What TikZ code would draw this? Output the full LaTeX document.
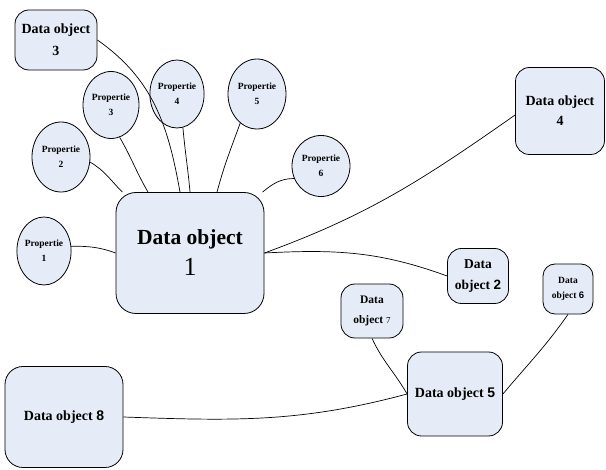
\documentclass[tikz,border=0pt]{standalone}
\usepackage{fontspec}
\setmainfont{Liberation Serif}
\newfontfamily\digitfont{Liberation Sans}
\usetikzlibrary{shapes.geometric}
\definecolor{objfill}{RGB}{230,236,247}

\begin{document}
\begin{tikzpicture}[x=1pt, y=-1pt, line width=0.8pt,
    dobj/.style={draw, fill=objfill, rounded corners=14pt, align=center, inner sep=0pt, font=\bfseries},
    prop/.style={draw, fill=objfill, ellipse, align=center, inner sep=0pt, font=\bfseries\fontsize{9.5}{15}\selectfont},
    link/.style={line width=0.7pt}]

\useasboundingbox (0,0) rectangle (606,470);

% main data object
\node[dobj, minimum width=148pt, minimum height=121pt, rounded corners=20pt, font=\bfseries\fontsize{21.5}{31}\selectfont] (do1) at (190,253)
    {Data object\\ {\mdseries\fontsize{26}{31}\selectfont 1}};

% other data objects
\node[dobj, minimum width=82pt, minimum height=60pt, font=\bfseries\fontsize{14}{22}\selectfont] (do3) at (56,40) {Data object\\3};
\node[dobj, minimum width=89pt, minimum height=87pt, font=\bfseries\fontsize{14}{20}\selectfont] (do4) at (560,111) {Data object\\4};
\node[dobj, minimum width=61pt, minimum height=55pt, font=\bfseries\fontsize{13.5}{21}\selectfont] (do2) at (478,276) {Data\\object {\digitfont 2}};
\node[dobj, minimum width=62pt, minimum height=54pt, font=\bfseries\fontsize{11.5}{20}\selectfont] (do7) at (372,311) {Data\\object {\mdseries\fontsize{9}{20}\selectfont 7}};
\node[dobj, minimum width=50pt, minimum height=50pt, rounded corners=12pt, font=\bfseries\fontsize{9.5}{15}\selectfont] (do6) at (568,289) {Data\\object {\digitfont 6}};
\node[dobj, minimum width=95pt, minimum height=84pt, font=\bfseries\fontsize{14}{20}\selectfont] (do5) at (455,394) {Data object {\digitfont 5}};
\node[dobj, minimum width=118pt, minimum height=101pt, rounded corners=18pt, font=\bfseries\fontsize{14}{20}\selectfont] (do8) at (64,417) {Data object {\digitfont 8}};

% properties
\node[prop, minimum width=53pt, minimum height=68pt] (p1) at (44,251) {Propertie\\1};
\node[prop, minimum width=58pt, minimum height=70pt] (p2) at (61,157) {Propertie\\2};
\node[prop, minimum width=56pt, minimum height=67pt] (p3) at (111,105) {Propertie\\3};
\node[prop, minimum width=44pt, minimum height=68pt] (p4) at (177,94) {Propertie\\4};
\node[prop, minimum width=58pt, minimum height=70pt] (p5) at (257,94) {Propertie\\5};
\node[prop, minimum width=58pt, minimum height=61pt] (p6) at (321,166) {Propertie\\6};

% links around data object 1
\draw[link] (do3.east) to[out=-35, in=100] ([xshift=-10pt]do1.north);
\draw[link] (p3.-75) to[out=-60, in=120] ([xshift=-42pt]do1.north);
\draw[link] (p2.-10) to[out=-30, in=135] (do1.138);
\draw[link] (p4.-80) to[out=-85, in=95] (do1.north);
\draw[link] (p5.-120) to[out=-110, in=75] ([xshift=27pt]do1.north);
\draw[link] (do1.40) to[out=40, in=180] (p6.205);
\draw[link] (p1.10) to[out=0, in=160] (do1.west);
\draw[link] (do1.east) to[out=20, in=215] ([yshift=-4pt]do4.west);
\draw[link] (do1.east) to[out=3, in=160] (do2.west);

% links around data object 5
\draw[link] (do7.south) to[out=-65, in=120] (do5.west);
\draw[link] (do6.south) to[out=-125, in=50] (do5.east);
\draw[link] (do8.east) to[out=-2, in=195] (do5.west);

\end{tikzpicture}
\end{document}
